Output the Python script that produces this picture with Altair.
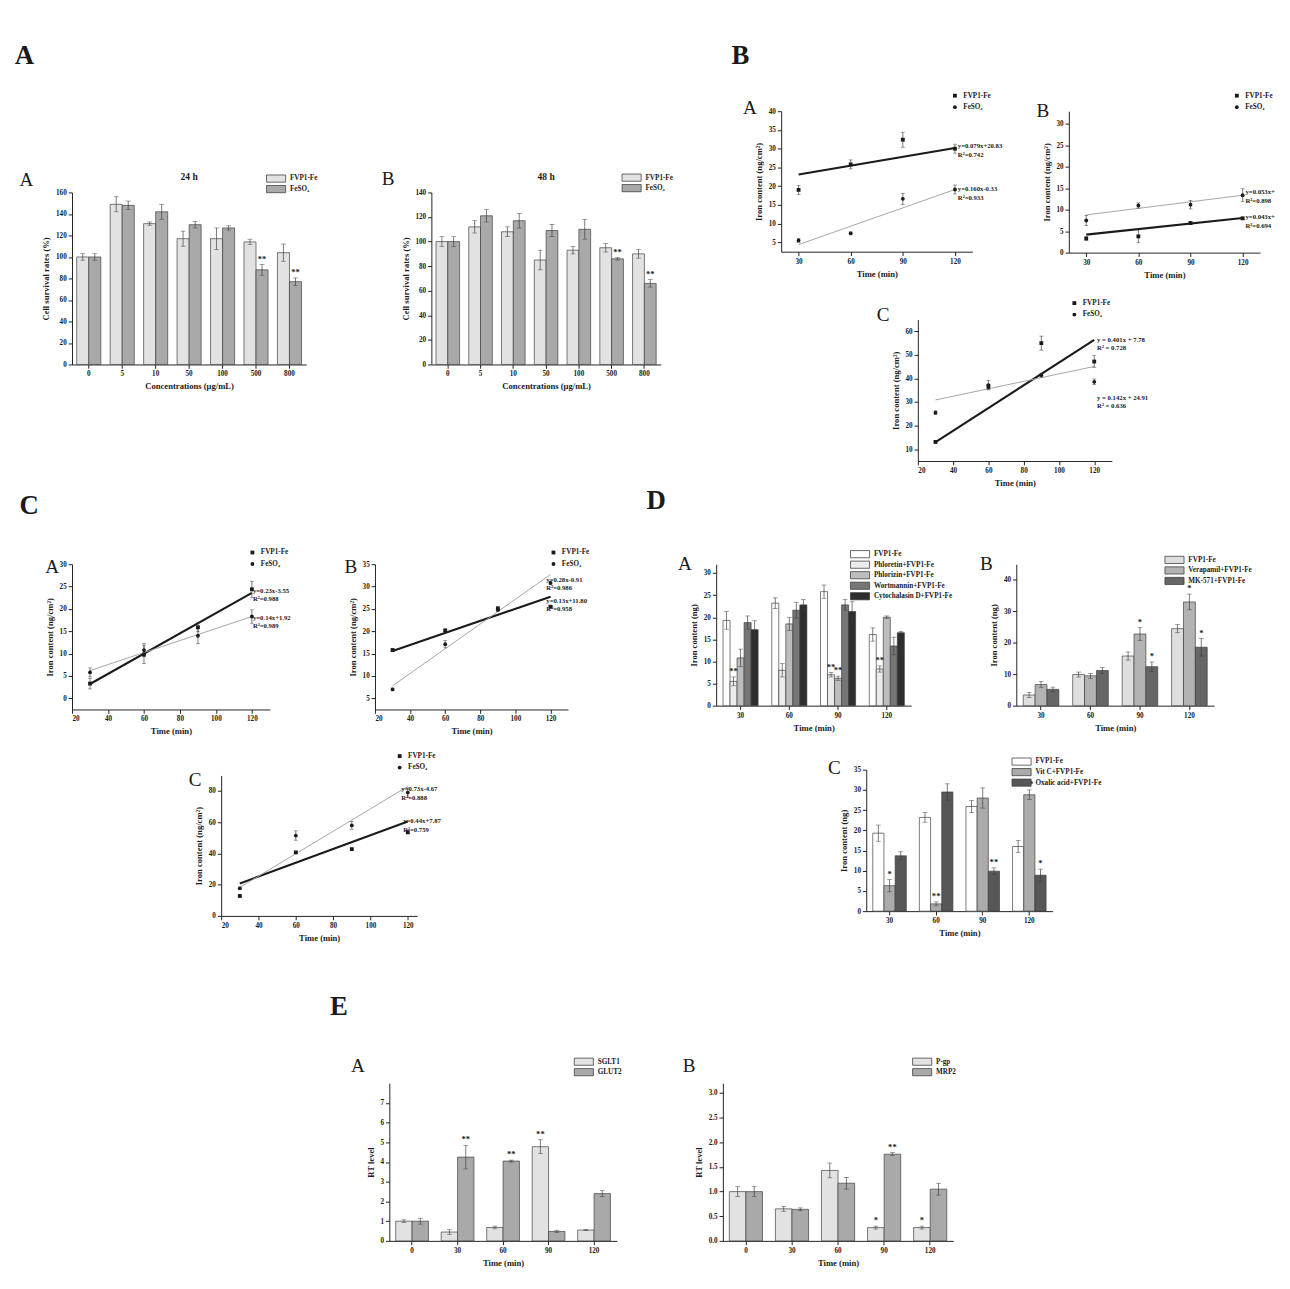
import altair as alt
import pandas as pd

SERIF = "Liberation Serif, DejaVu Serif, serif"
INK = "#1a1a1a"
EDGE = "#3c3c3c"

# ---------------- Section A: cell survival ----------------
conc_labels = ["0", "5", "10", "50", "100", "500", "800"]
surv_series = ["FVP1-Fe", "FeSO₄"]
h24_fvp = [100, 149, 131, 117, 117, 114, 104]
h24_fvp_err = [3, 7, 1.5, 7, 10, 2.5, 8]
h24_fes = [100, 148, 142, 130, 127, 88, 77]
h24_fes_err = [3, 4, 7, 3, 2, 5, 3.5]
h48_fvp = [100, 112, 108, 85, 93, 95, 90]
h48_fvp_err = [4, 5, 4, 8, 3, 3.5, 3.5]
h48_fes = [100, 121, 117, 109, 110, 86, 66]
h48_fes_err = [4, 5, 6, 5, 8, 1, 3]
surv_fvp_sig = ["", "", "", "", "", "", ""]
surv_fes_sig = ["", "", "", "", "", "**", "**"]

# ---------------- Sections B and C: uptake time courses ----------------
time_pts = [30, 60, 90, 120]
fit_times = [30, 120]
uptake_series = ["FVP1-Fe", "FeSO₄"]

bA_fvp = [19.0, 25.8, 32.4, 30.0]
bA_fvp_err = [1.2, 1.2, 2.0, 1.2]
bA_fes = [5.5, 7.4, 16.6, 19.1]
bA_fes_err = [0.5, 0.4, 1.5, 1.2]
bA_fit_fvp = [23.1, 30.2]
bA_fit_fes = [4.4, 19.1]
bA_eq = ["y=0.079x+20.83\nR²=0.742", "y=0.160x-0.33\nR²=0.933"]
bA_eq_x = [120, 120]
bA_eq_y = [30.6, 19.2]

bB_fvp = [3.3, 3.8, 6.9, 8.0]
bB_fvp_err = [0.4, 1.5, 0.3, 0.3]
bB_fes = [7.5, 11.0, 11.2, 13.4]
bB_fes_err = [1.2, 0.6, 1.0, 1.5]
bB_fit_fvp = [4.2, 8.1]
bB_fit_fes = [8.8, 13.4]
bB_eq = ["y=0.043x+\nR²=0.694", "y=0.053x+\nR²=0.898"]
bB_eq_x = [120, 120]
bB_eq_y = [8.2, 14.1]

bC_fvp = [13.1, 36.5, 55.0, 47.2]
bC_fvp_err = [0.5, 1.0, 3.0, 2.5]
bC_fes = [25.5, 37.2, 41.4, 38.6]
bC_fes_err = [0.8, 2.0, 0.8, 1.2]
bC_fit_fvp = [13.0, 56.4]
bC_fit_fes = [30.9, 45.1]
bC_eq = ["y = 0.401x + 7.78\nR² = 0.728", "y = 0.142x + 24.91\nR² = 0.636"]
bC_eq_x = [120, 120]
bC_eq_y = [56.4, 31.9]

cA_fvp = [3.3, 9.8, 15.9, 24.4]
cA_fvp_err = [1.2, 2.0, 1.0, 1.8]
cA_fes = [5.8, 10.8, 14.0, 18.3]
cA_fes_err = [1.0, 1.5, 1.8, 1.5]
cA_fit_fvp = [3.2, 23.6]
cA_fit_fes = [6.2, 18.3]
cA_eq = ["y=0.23x-3.55\nR²=0.988", "y=0.14x+1.92\nR²=0.989"]
cA_eq_x = [119, 119]
cA_eq_y = [24.1, 18.0]

cB_fvp = [15.8, 20.2, 25.1, 25.5]
cB_fvp_err = [0.3, 0.3, 0.4, 0.3]
cB_fes = [7.0, 17.1, 24.8, 30.8]
cB_fes_err = [0.3, 0.8, 0.4, 0.4]
cB_fit_fvp = [15.6, 27.7]
cB_fit_fes = [7.8, 32.7]
cB_eq = ["y=0.13x+11.80\nR²=0.958", "y=0.28x-0.91\nR²=0.986"]
cB_eq_x = [116, 116]
cB_eq_y = [26.8, 31.5]

cC_fvp = [12.8, 40.7, 42.8, 53.6]
cC_fvp_err = [0.5, 0.8, 0.5, 1.0]
cC_fes = [17.7, 51.5, 58.0, 79.0]
cC_fes_err = [0.8, 3.0, 2.5, 3.0]
cC_fit_fvp = [20.8, 60.5]
cC_fit_fes = [18.3, 83.0]
cC_eq = ["y=0.44x+7.87\nR²=0.759", "y=0.73x-4.67\nR²=0.888"]
cC_eq_x = [116, 115]
cC_eq_y = [60.6, 81.3]

# ---------------- Section D: inhibitors ----------------
time_labels = ["30", "60", "90", "120"]
dA_series = ["FVP1-Fe", "Phloretin+FVP1-Fe", "Phlorizin+FVP1-Fe",
             "Wortmannin+FVP1-Fe", "Cytochalasin D+FVP1-Fe"]
dA_vals = [[19.3, 23.2, 25.8, 16.1],
           [5.5, 8.0, 7.0, 8.3],
           [10.8, 18.5, 6.2, 20.0],
           [18.8, 21.6, 22.8, 13.5],
           [17.2, 22.8, 21.3, 16.5]]
dA_errs = [[2.0, 1.2, 1.5, 1.5],
           [1.0, 1.5, 0.5, 0.7],
           [2.0, 1.5, 0.5, 0.3],
           [1.5, 1.8, 1.2, 2.0],
           [2.0, 1.2, 2.2, 0.3]]
dA_sigs = [["", "", "", ""],
           ["**", "", "**", "**"],
           ["", "", "**", ""],
           ["", "", "", ""],
           ["", "", "", ""]]

dB_series = ["FVP1-Fe", "Verapamil+FVP1-Fe", "MK-571+FVP1-Fe"]
dB_vals = [[3.4, 9.9, 15.8, 24.5],
           [6.7, 9.5, 22.8, 33.0],
           [5.2, 11.2, 12.4, 18.6]]
dB_errs = [[0.8, 0.8, 1.3, 1.3],
           [1.0, 0.8, 2.0, 2.5],
           [0.7, 1.0, 1.5, 2.8]]
dB_sigs = [["", "", "", ""],
           ["", "", "*", "*"],
           ["", "", "*", "*"]]

dC_series = ["FVP1-Fe", "Vit C+FVP1-Fe", "Oxalic acid+FVP1-Fe"]
dC_vals = [[19.3, 23.2, 25.9, 16.0],
           [6.3, 1.8, 28.0, 28.8],
           [13.7, 29.5, 9.9, 8.9]]
dC_errs = [[2.0, 1.2, 1.5, 1.5],
           [1.5, 0.5, 2.5, 1.2],
           [1.0, 2.0, 0.8, 1.5]]
dC_sigs = [["", "", "", ""],
           ["*", "**", "", "**"],
           ["", "", "**", "*"]]

# ---------------- Section E: transporter expression ----------------
e_times = ["0", "30", "60", "90", "120"]
eA_series = ["SGLT1", "GLUT2"]
eA_vals = [[1.0, 0.45, 0.68, 4.78, 0.55],
           [1.0, 4.25, 4.05, 0.48, 2.4]]
eA_errs = [[0.07, 0.12, 0.07, 0.35, 0.03],
           [0.15, 0.6, 0.05, 0.06, 0.15]]
eA_sigs = [["", "", "", "**", ""],
           ["", "**", "**", "", ""]]
eB_series = ["P-gp", "MRP2"]
eB_vals = [[1.0, 0.65, 1.43, 0.27, 0.27],
           [1.0, 0.64, 1.17, 1.76, 1.05]]
eB_errs = [[0.1, 0.05, 0.15, 0.03, 0.03],
           [0.1, 0.03, 0.12, 0.03, 0.12]]
eB_sigs = [["", "", "", "*", "*"],
           ["", "", "", "**", ""]]

RECT = "M-2,-0.75H2V0.75H-2Z"


def text_layer(txt, lx, ly, size=20, weight="normal", align="left", baseline="top"):
    return alt.Chart(pd.DataFrame({"t": [txt]})).mark_text(
        align=align, baseline=baseline, font=SERIF, fontSize=size, fontWeight=weight, color=INK
    ).encode(text="t:N", x=alt.value(lx), y=alt.value(ly))


def sec_letter(txt, lx, ly):
    return text_layer(txt, lx, ly, size=28, weight="bold")


def spacer(w, h):
    return alt.Chart(pd.DataFrame({"t": [""]})).mark_text().encode(
        text="t:N", x=alt.value(0), y=alt.value(0)).properties(width=w, height=h)


def bar_panel(cats, series, vals, errs, sigs, colors, ydom, yticks, ytitle, xtitle,
              w, h, letter, lxy, legxy, title=None, yfmt=None, extra=None):
    rows = []
    for s, vs, es, ss in zip(series, vals, errs, sigs):
        for c, v, e, g in zip(cats, vs, es, ss):
            rows.append({"cat": c, "series": s, "v": v, "e": e, "sig": g})
    df = pd.DataFrame(rows)
    base = alt.Chart(df).transform_calculate(lo="datum.v - datum.e", hi="datum.v + datum.e")
    X = alt.X("cat:N", sort=cats, title=xtitle,
              scale=alt.Scale(paddingInner=0.28, paddingOuter=0.14),
              axis=alt.Axis(labelAngle=0))
    XO = alt.XOffset("series:N", sort=series,
                     scale=alt.Scale(domain=series, paddingInner=0, paddingOuter=0))
    ysc = alt.Scale(domain=ydom, nice=False, zero=False)
    yax = alt.Axis(values=yticks, format=yfmt) if yfmt else alt.Axis(values=yticks)

    def Y(f):
        return alt.Y(f, scale=ysc, axis=yax, title=ytitle)

    bars = base.mark_bar(stroke=EDGE, strokeWidth=0.7).encode(
        x=X, xOffset=XO, y=Y("v:Q"),
        color=alt.Color("series:N", sort=series,
                        scale=alt.Scale(domain=series, range=colors),
                        legend=alt.Legend(orient="none", legendX=legxy[0], legendY=legxy[1],
                                          title=None, symbolType=RECT, symbolSize=100,
                                          symbolStrokeColor=EDGE, symbolStrokeWidth=0.8,
                                          symbolOpacity=1, rowPadding=0, labelOffset=9)))
    rules = base.mark_rule(color=EDGE, strokeWidth=0.7).encode(
        x=X, xOffset=XO, y=Y("lo:Q"), y2="hi:Q")
    cap_hi = base.mark_tick(color=EDGE, thickness=0.7, size=5, orient="horizontal").encode(
        x=X, xOffset=XO, y=Y("hi:Q"))
    cap_lo = base.mark_tick(color=EDGE, thickness=0.7, size=5, orient="horizontal").encode(
        x=X, xOffset=XO, y=Y("lo:Q"))
    stars = base.transform_filter("datum.sig != ''").mark_text(
        baseline="bottom", dy=-1, font=SERIF, fontSize=9, fontWeight="bold", color=INK
    ).encode(x=X, xOffset=XO, y=Y("hi:Q"), text="sig:N")
    layers = [bars, rules, cap_hi, cap_lo, stars, text_layer(letter, lxy[0], lxy[1])]
    if title:
        layers.append(text_layer(title, w / 2, -16, size=10, weight="bold",
                                 align="center", baseline="middle"))
    if extra is not None:
        layers.append(extra)
    return alt.layer(*layers).properties(width=w, height=h)


def scatter_panel(fvp, fvp_err, fes, fes_err, fit_fvp, fit_fes, eq, eq_x, eq_y,
                  xdom, xticks, ydom, yticks, w, h, letter, lxy, legxy, extra=None):
    rows = []
    for s, vs, es in zip(uptake_series, [fvp, fes], [fvp_err, fes_err]):
        for t, v, e in zip(time_pts, vs, es):
            rows.append({"t": t, "v": v, "e": e, "series": s})
    df = pd.DataFrame(rows)
    frows = []
    for s, fv in zip(uptake_series, [fit_fvp, fit_fes]):
        for t, v in zip(fit_times, fv):
            frows.append({"t": t, "v": v, "series": s})
    fdf = pd.DataFrame(frows)
    edf = pd.DataFrame({"t": eq_x, "v": eq_y, "txt": eq})

    X = alt.X("t:Q", scale=alt.Scale(domain=xdom, nice=False, zero=False),
              axis=alt.Axis(values=xticks), title="Time (min)")
    ysc = alt.Scale(domain=ydom, nice=False, zero=False)

    def Y(f):
        return alt.Y(f, scale=ysc, axis=alt.Axis(values=yticks), title="Iron content (ng/cm²)")

    base = alt.Chart(df).transform_calculate(lo="datum.v - datum.e", hi="datum.v + datum.e")
    thick = alt.Chart(fdf).transform_filter(alt.datum.series == uptake_series[0]).mark_line(
        color=INK, strokeWidth=2.2).encode(x=X, y=Y("v:Q"))
    thin = alt.Chart(fdf).transform_filter(alt.datum.series == uptake_series[1]).mark_line(
        color="#a3a3a3", strokeWidth=1.0).encode(x=X, y=Y("v:Q"))
    rules = base.mark_rule(color=EDGE, strokeWidth=0.7).encode(x=X, y=Y("lo:Q"), y2="hi:Q")
    cap_hi = base.mark_tick(color=EDGE, thickness=0.7, size=4, orient="horizontal").encode(
        x=X, y=Y("hi:Q"))
    cap_lo = base.mark_tick(color=EDGE, thickness=0.7, size=4, orient="horizontal").encode(
        x=X, y=Y("lo:Q"))
    pts = base.mark_point(filled=True, size=16, color=INK, opacity=1).encode(
        x=X, y=Y("v:Q"),
        shape=alt.Shape("series:N", sort=uptake_series,
                        scale=alt.Scale(domain=uptake_series, range=["square", "circle"]),
                        legend=alt.Legend(orient="none", legendX=legxy[0], legendY=legxy[1],
                                          title=None, symbolFillColor=INK,
                                          symbolStrokeColor=INK, symbolSize=16,
                                          rowPadding=1, labelOffset=5)))
    eqs = alt.Chart(edf).mark_text(align="left", baseline="middle", lineBreak="\n", dx=3,
                                   font=SERIF, fontSize=7, fontWeight="bold", color=INK,
                                   lineHeight=9).encode(x=X, y=Y("v:Q"), text="txt:N")
    layers = [thick, thin, rules, cap_hi, cap_lo, pts, eqs, text_layer(letter, lxy[0], lxy[1])]
    if extra is not None:
        layers.append(extra)
    return alt.layer(*layers).properties(width=w, height=h)


def indep(c):
    return c.resolve_scale(color="independent", shape="independent",
                           xOffset="independent", x="independent", y="independent"
                           ).resolve_legend(color="independent", shape="independent")


surv_colors = ["#e2e2e2", "#a9a9a9"]
pAA = bar_panel(conc_labels, surv_series, [h24_fvp, h24_fes], [h24_fvp_err, h24_fes_err],
                [surv_fvp_sig, surv_fes_sig], surv_colors, [0, 160], list(range(0, 161, 20)),
                "Cell survival rates (%)", "Concentrations (μg/mL)", 245, 180, "A",
                (-55, -23), (208, -20), title="24 h")
pAB = bar_panel(conc_labels, surv_series, [h48_fvp, h48_fes], [h48_fvp_err, h48_fes_err],
                [surv_fvp_sig, surv_fes_sig], surv_colors, [0, 140], list(range(0, 141, 20)),
                "Cell survival rates (%)", "Concentrations (μg/mL)", 240, 180, "B",
                (-52, -24), (204, -21), title="48 h")

pBA = scatter_panel(bA_fvp, bA_fvp_err, bA_fes, bA_fes_err, bA_fit_fvp, bA_fit_fes,
                    bA_eq, bA_eq_x, bA_eq_y, [20, 130], [30, 60, 90, 120], [2.5, 40],
                    list(range(5, 41, 5)), 200, 147, "A", (-40, -13), (178, -20),
                    extra=sec_letter("B", -52, -71))
pBB = scatter_panel(bB_fvp, bB_fvp_err, bB_fes, bB_fes_err, bB_fit_fvp, bB_fit_fes,
                    bB_eq, bB_eq_x, bB_eq_y, [20, 130], [30, 60, 90, 120], [0, 33],
                    list(range(0, 31, 5)), 200, 148, "B", (-34, -10), (172, -20))
pBC = scatter_panel(bC_fvp, bC_fvp_err, bC_fes, bC_fes_err, bC_fit_fvp, bC_fit_fes,
                    bC_eq, bC_eq_x, bC_eq_y, [20, 130], [20, 40, 60, 80, 100, 120], [5, 65],
                    list(range(10, 61, 10)), 203, 148, "C", (-43, -15), (160, -21))

pCA = scatter_panel(cA_fvp, cA_fvp_err, cA_fes, cA_fes_err, cA_fit_fvp, cA_fit_fes,
                    cA_eq, cA_eq_x, cA_eq_y, [20, 130], [20, 40, 60, 80, 100, 120], [-2.5, 30],
                    list(range(0, 31, 5)), 207, 152, "A", (-28, -7), (185, -16),
                    extra=sec_letter("C", -55, -75))
pCB = scatter_panel(cB_fvp, cB_fvp_err, cB_fes, cB_fes_err, cB_fit_fvp, cB_fit_fes,
                    cB_eq, cB_eq_x, cB_eq_y, [20, 130], [20, 40, 60, 80, 100, 120], [2.5, 35],
                    list(range(5, 36, 5)), 202, 152, "B", (-32, -7), (183, -16))
pCC = scatter_panel(cC_fvp, cC_fvp_err, cC_fes, cC_fes_err, cC_fit_fvp, cC_fit_fes,
                    cC_eq, cC_eq_x, cC_eq_y, [20, 125], [20, 40, 60, 80, 100, 120], [0, 90],
                    list(range(0, 81, 20)), 205, 147, "C", (-34, -5), (183, -24))

pDA = bar_panel(time_labels, dA_series, dA_vals, dA_errs, dA_sigs,
                ["#ffffff", "#ececec", "#bdbdbd", "#767676", "#2e2e2e"], [0, 32],
                list(range(0, 31, 5)), "Iron content (ng)", "Time (min)", 204, 148, "A",
                (-40, -10), (145, -16), extra=sec_letter("D", -73, -80))
pDB = bar_panel(time_labels, dB_series, dB_vals, dB_errs, dB_sigs,
                ["#dedede", "#b3b3b3", "#666666"], [0, 45], list(range(0, 41, 10)),
                "Iron content (ng)", "Time (min)", 207, 148, "B", (-38, -10), (160, -10))
pDC = bar_panel(time_labels, dC_series, dC_vals, dC_errs, dC_sigs,
                ["#ffffff", "#ababab", "#575757"], [0, 35], list(range(0, 36, 5)),
                "Iron content (ng)", "Time (min)", 195, 148, "C", (-40, -12), (157, -14))

pEA = bar_panel(e_times, eA_series, eA_vals, eA_errs, eA_sigs, ["#e2e2e2", "#a9a9a9"],
                [0, 8], list(range(0, 8)), "RT level", "Time (min)", 238, 165, "A",
                (-40, -28), (198, -28), extra=sec_letter("E", -62, -93))
pEB = bar_panel(e_times, eB_series, eB_vals, eB_errs, eB_sigs, ["#e2e2e2", "#a9a9a9"],
                [0, 3.2], [0, 0.5, 1.0, 1.5, 2.0, 2.5, 3.0], "RT level", "Time (min)",
                241, 165, "B", (-42, -28), (203, -28), yfmt=".1f")

headA = sec_letter("A", -60, -71).properties(width=20, height=46)

secA = indep(alt.vconcat(headA, indep(alt.hconcat(pAA, pAB, spacing=67)), spacing=15))
secB = indep(alt.vconcat(indep(alt.hconcat(pBA, pBB, spacing=35)),
                         indep(alt.hconcat(spacer(85, 1), pBC, spacing=15)), spacing=21))
row1 = indep(alt.hconcat(secA, secB, spacing=61))

secC = indep(alt.vconcat(indep(alt.hconcat(pCA, pCB, spacing=56)), pCC, spacing=17,
                         center=True))
secD = indep(alt.vconcat(indep(alt.hconcat(pDA, pDB, spacing=29)), pDC, spacing=25,
                         center=True))
row2 = indep(alt.hconcat(secC, secD, spacing=59))

secE = indep(alt.hconcat(pEA, pEB, spacing=63))
row3 = indep(alt.vconcat(spacer(1, 33),
                         indep(alt.hconcat(spacer(255, 1), secE, spacing=15)), spacing=15))

chart = indep(alt.vconcat(row1, row2, row3, spacing=0)).properties(padding=7)

chart = chart.configure(font=SERIF).configure_view(stroke=None).configure_axis(
    labelFont=SERIF, labelFontSize=7.5, labelFontWeight="bold", labelColor=INK,
    titleFont=SERIF, titleFontSize=9, titleFontWeight="bold", titleColor=INK,
    domainColor=INK, tickColor=INK, tickSize=4, grid=False, labelPadding=2, titlePadding=5
).configure_legend(
    labelFont=SERIF, labelFontSize=7.5, labelFontWeight="bold", labelColor=INK,
    padding=0, symbolOffset=0
)

chart.save("out.html", embed_options={"renderer": "svg", "actions": False})
